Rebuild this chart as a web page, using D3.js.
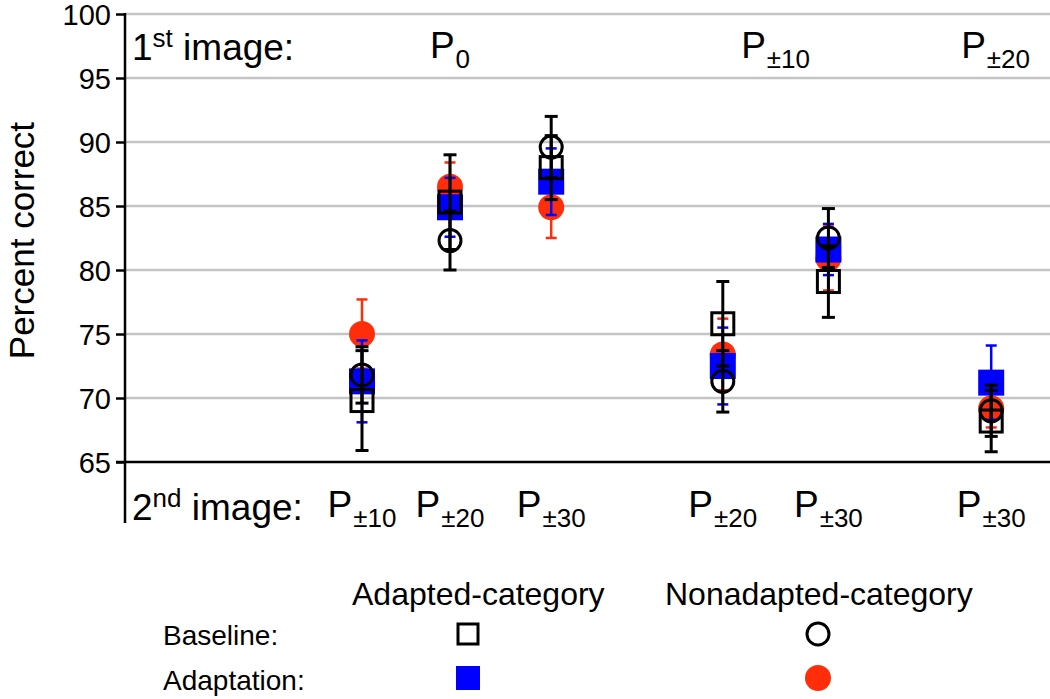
<!DOCTYPE html>
<html>
<head>
<meta charset="utf-8">
<script src="https://cdn.jsdelivr.net/npm/d3@7"></script>
<style>
  html, body { margin: 0; padding: 0; background: #fff; }
  svg { display: block; font-family: "Liberation Sans", Arial, Helvetica, sans-serif; }
</style>
</head>
<body>
<svg id="chart" width="1050" height="699"></svg>
<script>
// ---- data ----
const firstImage  = ["P0", "P0", "P0", "P±10", "P±10", "P±20"];
const secondImage = ["±10", "±20", "±30", "±20", "±30", "±30"];
const slots = [1, 2, 3.15, 5.1, 6.3, 8.15];           // category slot along x
const topLabels = [
  { main: "P", sub: "0",   slot: 2 },
  { main: "P", sub: "±10", slot: 5.7 },
  { main: "P", sub: "±20", slot: 8.2 }
];
const baselineAdapted       = [69.8, 85.3, 88.0, 75.8, 79.1, 68.2];
const baselineAdaptedErr    = [3.9, 3.7, 2.5, 3.3, 2.8, 2.4];
const baselineNonadapted    = [71.8, 82.3, 89.6, 71.3, 82.5, 69.0];
const baselineNonadaptedErr = [2.2, 2.3, 2.4, 2.4, 2.3, 2.0];
const adaptAdapted          = [71.3, 84.9, 86.9, 72.5, 81.6, 71.2];
const adaptAdaptedErr       = [3.2, 2.3, 2.6, 3.0, 2.0, 2.9];
const adaptNonadapted       = [75.0, 86.5, 84.9, 73.4, 80.9, 69.2];
const adaptNonadaptedErr    = [2.7, 1.9, 2.4, 2.8, 2.5, 1.5];
const yTicks = [65, 70, 75, 80, 85, 90, 95, 100];

// ---- layout ----
const svg = d3.select("#chart");
const FONT = 37;
const SUBF = 26;
const x = d3.scaleLinear().domain([1, 2]).range([362, 450]);
const y = d3.scaleLinear().domain([65, 100]).range([462, 14]);
const axisX = 125;

// gridlines
svg.append("g").selectAll("line").data(yTicks.filter(t => t > 65)).join("line")
  .attr("x1", axisX).attr("x2", 1050)
  .attr("y1", d => y(d)).attr("y2", d => y(d))
  .attr("stroke", "#c4c4c4").attr("stroke-width", 2.5);

// y axis via d3.axisLeft
const yAxis = svg.append("g").attr("transform", `translate(${axisX},0)`)
  .call(d3.axisLeft(y).tickValues(yTicks).tickSize(9).tickPadding(5).tickFormat(d3.format("d")));
yAxis.select(".domain").remove();
yAxis.selectAll(".tick line").attr("stroke", "#000").attr("stroke-width", 2.5);
yAxis.selectAll(".tick text").attr("font-size", 29).attr("fill", "#000")
  .attr("font-family", "Liberation Sans, Arial, sans-serif").attr("dy", "0.36em");

// axis line & baseline at 65
svg.append("line").attr("x1", axisX).attr("x2", axisX).attr("y1", y(100) - 1).attr("y2", 523)
  .attr("stroke", "#000").attr("stroke-width", 2.5);
svg.append("line").attr("x1", axisX - 9).attr("x2", 1050).attr("y1", y(65)).attr("y2", y(65))
  .attr("stroke", "#000").attr("stroke-width", 2.5);

// y title
svg.append("text").attr("transform", `translate(34,${y(82.3)}) rotate(-90)`)
  .attr("text-anchor", "middle").attr("font-size", 35).text("Percent correct");

// "1st image:" / "2nd image:"
function supLabel(txt, sup, rest, xx, yy) {
  const t = svg.append("text").attr("x", xx).attr("y", yy).attr("font-size", FONT);
  t.append("tspan").text(txt);
  t.append("tspan").attr("dy", -13).attr("font-size", SUBF).text(sup);
  t.append("tspan").attr("dy", 13).text(rest);
}
supLabel("1", "st", " image:", 132, 60);
supLabel("2", "nd", " image:", 132, 520);

function pLabel(main, sub, cx, yy) {
  const t = svg.append("text").attr("x", cx).attr("y", yy).attr("text-anchor", "middle").attr("font-size", FONT);
  t.append("tspan").text(main);
  t.append("tspan").attr("dy", 10).attr("font-size", SUBF).attr("dx", 1).text(sub);
}
topLabels.forEach(d => pLabel(d.main, d.sub, x(d.slot), 58));
secondImage.forEach((s, i) => pLabel("P", s, x(slots[i]), 517));

// ---- marks ----
function errBars(vals, errs, color, width, cap) {
  const g = svg.append("g").attr("stroke", color).attr("stroke-width", width);
  vals.forEach((v, i) => {
    const cx = x(slots[i]);
    g.append("line").attr("x1", cx).attr("x2", cx).attr("y1", y(v - errs[i])).attr("y2", y(v + errs[i]));
    g.append("line").attr("x1", cx - cap).attr("x2", cx + cap).attr("y1", y(v - errs[i])).attr("y2", y(v - errs[i]));
    g.append("line").attr("x1", cx - cap).attr("x2", cx + cap).attr("y1", y(v + errs[i])).attr("y2", y(v + errs[i]));
  });
}

const RED = "#ff2d0a", BLUE = "#0000ff";

// adaptation nonadapted (red circles)
errBars(adaptNonadapted, adaptNonadaptedErr, RED, 2.5, 5.5);
svg.append("g").selectAll("circle").data(adaptNonadapted).join("circle")
  .attr("cx", (d, i) => x(slots[i])).attr("cy", d => y(d)).attr("r", 13).attr("fill", RED);

// adaptation adapted (blue squares)
errBars(adaptAdapted, adaptAdaptedErr, BLUE, 2.5, 5.5);
svg.append("g").selectAll("rect").data(adaptAdapted).join("rect")
  .attr("x", (d, i) => x(slots[i]) - 13).attr("y", d => y(d) - 13)
  .attr("width", 26).attr("height", 26).attr("fill", BLUE);

// baseline errors
errBars(baselineNonadapted, baselineNonadaptedErr, "#000", 3, 6.5);
errBars(baselineAdapted, baselineAdaptedErr, "#000", 3, 6.5);

// baseline nonadapted (open circles)
svg.append("g").selectAll("circle").data(baselineNonadapted).join("circle")
  .attr("cx", (d, i) => x(slots[i])).attr("cy", d => y(d)).attr("r", 11)
  .attr("fill", "none").attr("stroke", "#000").attr("stroke-width", 3);

// baseline adapted (open squares)
svg.append("g").selectAll("rect").data(baselineAdapted).join("rect")
  .attr("x", (d, i) => x(slots[i]) - 11).attr("y", d => y(d) - 11)
  .attr("width", 22).attr("height", 22)
  .attr("fill", "none").attr("stroke", "#000").attr("stroke-width", 3);

// ---- legend ----
const LF = 32;
svg.append("text").attr("x", 352).attr("y", 605).attr("font-size", LF).text("Adapted-category");
svg.append("text").attr("x", 665).attr("y", 605).attr("font-size", LF).text("Nonadapted-category");
svg.append("text").attr("x", 163).attr("y", 645).attr("font-size", 28).text("Baseline:");
svg.append("text").attr("x", 163).attr("y", 690).attr("font-size", 28).text("Adaptation:");
svg.append("rect").attr("x", 458).attr("y", 624).attr("width", 20).attr("height", 20)
  .attr("fill", "none").attr("stroke", "#000").attr("stroke-width", 3);
svg.append("circle").attr("cx", 818).attr("cy", 634).attr("r", 11)
  .attr("fill", "none").attr("stroke", "#000").attr("stroke-width", 3);
svg.append("rect").attr("x", 456).attr("y", 666).attr("width", 24).attr("height", 24).attr("fill", BLUE);
svg.append("circle").attr("cx", 818).attr("cy", 678).attr("r", 13).attr("fill", RED);
</script>
</body>
</html>
